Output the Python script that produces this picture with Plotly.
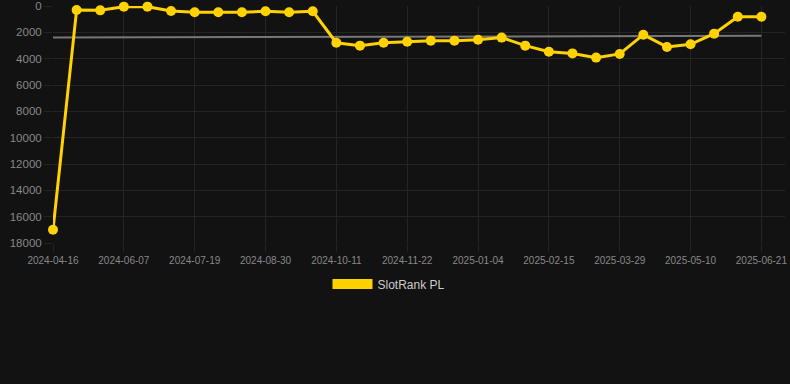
import plotly.graph_objects as go

dates = [
    "2024-04-16", "2024-05-10", "2024-05-24", "2024-06-07", "2024-06-21", "2024-07-05",
    "2024-07-19", "2024-08-02", "2024-08-16", "2024-08-30", "2024-09-13", "2024-09-27",
    "2024-10-11", "2024-10-25", "2024-11-08", "2024-11-22", "2024-12-06", "2024-12-20",
    "2025-01-04", "2025-01-18", "2025-02-01", "2025-02-15", "2025-03-01", "2025-03-15",
    "2025-03-29", "2025-04-12", "2025-04-26", "2025-05-10", "2025-05-24", "2025-06-07",
    "2025-06-21",
]
rank_values = [
    17000, 300, 330, 50, 50, 380, 480, 480, 480, 400, 480, 400,
    2790, 3010, 2790, 2710, 2630, 2630, 2560, 2400, 3010, 3470, 3600, 3920,
    3640, 2180, 3110, 2910, 2100, 810, 810,
]
trend_dates = [dates[0], dates[-1]]
trend_values = [2400, 2260]
tick_dates = dates[::3]
y_ticks = [0, 2000, 4000, 6000, 8000, 10000, 12000, 14000, 16000, 18000]
y_tick_labels = [str(v) for v in y_ticks]

YELLOW = "#FFD200"
GRID = "#242424"
BG = "#121212"
FONT = "Liberation Sans, Arial, sans-serif"

fig = go.Figure()
fig.add_trace(go.Scatter(
    x=trend_dates, y=trend_values, mode="lines",
    line=dict(color="#777777", width=2), showlegend=False, hoverinfo="skip",
))
fig.add_trace(go.Scatter(
    x=dates, y=rank_values, mode="lines+markers",
    line=dict(color=YELLOW, width=3),
    marker=dict(color=YELLOW, size=10),
    showlegend=False, name="SlotRank PL", cliponaxis=False,
))
fig.add_trace(go.Scatter(
    x=[None], y=[None], mode="lines",
    line=dict(color=YELLOW, width=11),
    name="SlotRank PL", showlegend=True,
))

fig.update_layout(
    width=790, height=384,
    paper_bgcolor=BG, plot_bgcolor=BG,
    margin=dict(l=53, r=5, t=6, b=141, autoexpand=False),
    font=dict(family=FONT, size=11, color="#888888"),
    legend=dict(
        orientation="h", x=0.459, xanchor="center",
        y=-0.173, yanchor="middle",
        font=dict(family=FONT, size=12, color="#cccccc"),
        itemwidth=40, bgcolor="rgba(0,0,0,0)",
    ),
    xaxis=dict(
        type="category", categoryorder="array", categoryarray=dates,
        range=[0, 31], tickvals=tick_dates, ticktext=tick_dates,
        showgrid=True, gridcolor=GRID, gridwidth=1,
        ticks="outside", ticklen=8, tickcolor=GRID,
        tickfont=dict(size=10, color="#888888"),
        zeroline=False, showline=False, tickangle=0,
    ),
    yaxis=dict(
        range=[18000, 0], tickvals=y_ticks, ticktext=y_tick_labels,
        showgrid=True, gridcolor=GRID, gridwidth=1,
        ticks="outside", ticklen=8, tickcolor=GRID,
        tickfont=dict(size=11.5, color="#888888"),
        zeroline=False, showline=False,
    ),
)

fig.write_html(
    "out.html",
    config={"displayModeBar": False},
    post_script="document.body.style.margin='0';document.body.style.background='#121212';",
)
